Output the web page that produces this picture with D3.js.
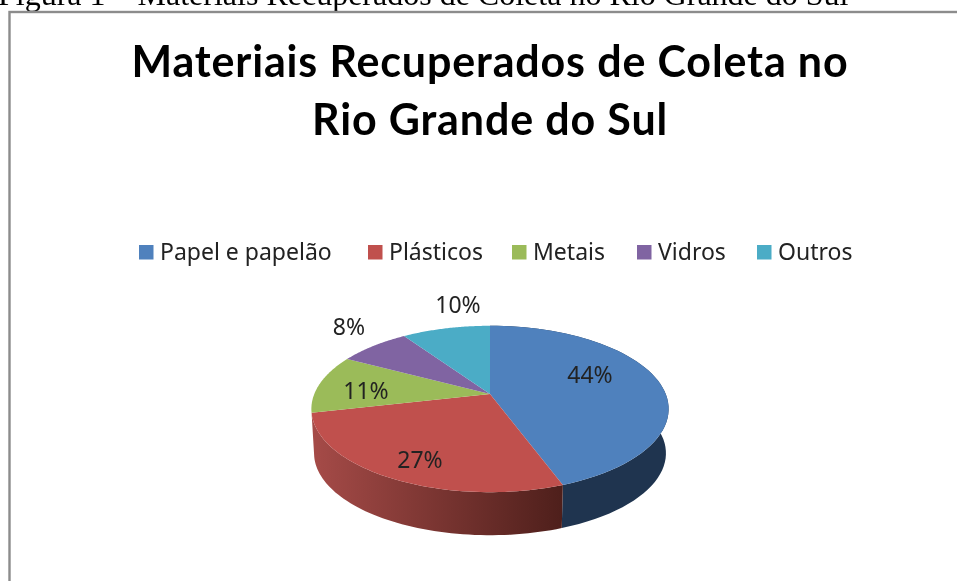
<!DOCTYPE html>
<html>
<head>
  <title>Materiais Recuperados</title>
  <meta charset="utf-8">
  <script src="https://cdn.jsdelivr.net/npm/d3@7"></script>
  <style>
    html, body { margin: 0; padding: 0; background: #fff; overflow: hidden; }
    svg { filter: blur(0.45px); }
  </style>
</head>
<body>
<script>
var categories = ["Papel e papelão", "Plásticos", "Metais", "Vidros", "Outros"];
var values = [44.4, 27.0, 11.4, 7.7, 9.5];
var labels = ["44%", "27%", "11%", "8%", "10%"];
var colors = ["#4f81bd", "#c0504d", "#9bbb59", "#8064a2", "#4bacc6"];
var caption = "Figura 1 – Materiais Recuperados de Coleta no Rio Grande do Sul";
var titleLines = ["Materiais Recuperados de Coleta no", "Rio Grande do Sul"];

var width = 957, height = 581;
var svg = d3.select("body").append("svg")
  .attr("width", width)
  .attr("height", height)
  .style("display", "block");

var defs = svg.append("defs");
var grad = defs.append("linearGradient").attr("id", "redSide")
  .attr("gradientUnits", "userSpaceOnUse")
  .attr("x1", 311).attr("x2", 563).attr("y1", 0).attr("y2", 0);
grad.append("stop").attr("offset", "0%").attr("stop-color", "#a64b48");
grad.append("stop").attr("offset", "100%").attr("stop-color", "#4e1f1b");

// caption, cut off by the top of the page
svg.append("text")
  .attr("x", -2).attr("y", 5)
  .style("font-family", "'Liberation Serif'")
  .style("font-size", "32px")
  .attr("fill", "#000")
  .text(caption);

// chart frame
svg.append("rect")
  .attr("x", 9.5).attr("y", 12)
  .attr("width", 960).attr("height", 600)
  .attr("fill", "#fff")
  .attr("stroke", "#8c8c8c")
  .attr("stroke-width", 2.4);

var title = svg.append("g")
  .attr("text-anchor", "middle")
  .style("font-family", "Lato")
  .style("font-weight", "bold")
  .style("font-size", "43px")
  .style("letter-spacing", "0.85px")
  .attr("fill", "#000");
title.selectAll("text").data(titleLines).enter().append("text")
  .attr("x", 490)
  .attr("y", function(d, i) { return 77 + i * 58; })
  .text(function(d) { return d; });

// legend
var legendX = d3.scaleOrdinal().domain(categories).range([139, 368, 512, 637, 757]);
var legend = svg.append("g").selectAll("g").data(categories).enter().append("g")
  .attr("transform", function(d) { return "translate(" + legendX(d) + ",0)"; });
legend.append("rect")
  .attr("y", 245).attr("width", 14.5).attr("height", 14.5)
  .attr("fill", function(d, i) { return colors[i]; });
legend.append("text")
  .attr("x", 21).attr("y", 259.5)
  .style("font-family", "'Noto Sans'")
  .style("font-size", "23px")
  .attr("fill", "#222")
  .text(function(d) { return d; });

// pie, tilted with a perspective so the far half looks shallower
var cx = 490, cy = 394, a = 175.7, b = 80.5, k = 0.18, depth = 44.5;
function project(angle, dy, scale) {
  var sx = Math.sin(angle), sy = -Math.cos(angle);
  var den = 1 - k * sy;
  return [cx + scale * a * sx / den, cy + dy + scale * b * sy / den];
}
function rim(start, end, dy, scale) {
  return d3.range(0, 61).map(function(i) {
    return project(start + (end - start) * i / 60, dy, scale);
  });
}
var line = d3.line();
var arcs = d3.pie().sort(null).value(function(d) { return d; })(values);

// side wall for the two slices facing the viewer
svg.append("g").selectAll("path").data(arcs.slice(0, 2)).enter().append("path")
  .attr("d", function(d) {
    return line(rim(d.startAngle, d.endAngle, 0, 1).concat(rim(d.startAngle, d.endAngle, depth, 0.985).reverse())) + "Z";
  })
  .attr("fill", function(d, i) { return i == 0 ? "#1f344f" : "url(#redSide)"; });

// top faces
svg.append("g").selectAll("path").data(arcs).enter().append("path")
  .attr("d", function(d) {
    return line([[cx, cy]].concat(rim(d.startAngle, d.endAngle, 0, 1))) + "Z";
  })
  .attr("fill", function(d, i) { return colors[i]; });

// data labels
var labelX = [590, 420, 366, 349, 458];
var labelY = [382.5, 467.5, 399, 335, 313];
svg.append("g").selectAll("text").data(labels).enter().append("text")
  .attr("x", function(d, i) { return labelX[i]; })
  .attr("y", function(d, i) { return labelY[i]; })
  .attr("text-anchor", "middle")
  .style("font-family", "'Noto Sans'")
  .style("font-size", "23px")
  .attr("fill", "#222")
  .text(function(d) { return d; });
</script>
</body>
</html>
